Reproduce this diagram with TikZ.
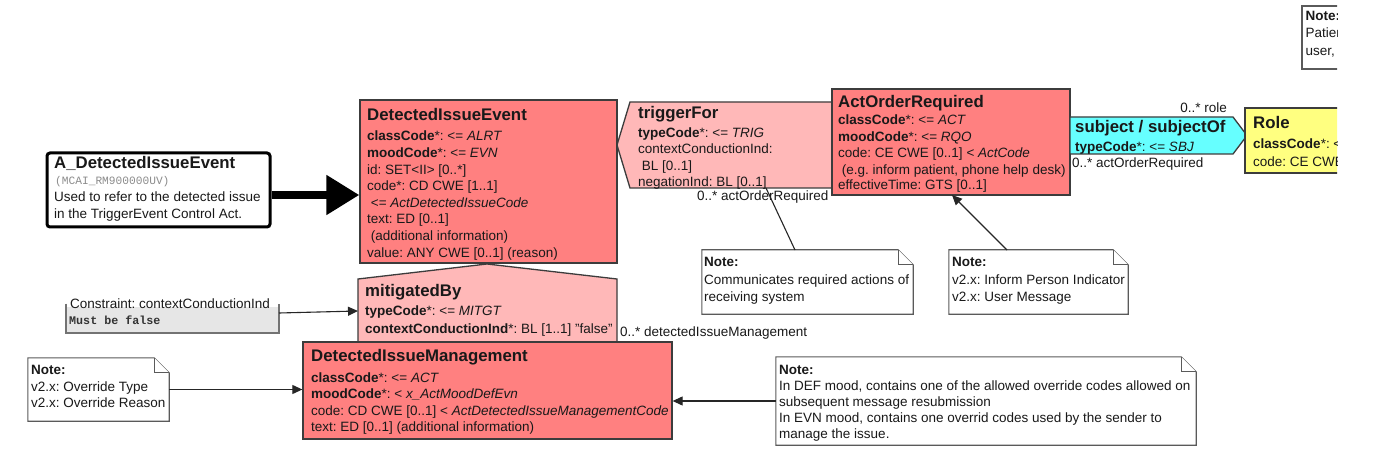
\documentclass[tikz,border=0pt]{standalone}
\usepackage{fontspec}
\setmainfont{Liberation Sans}
\setmonofont{Liberation Mono}
\usetikzlibrary{arrows.meta,fit}
\frenchspacing
\definecolor{salmonf}{RGB}{255,128,128}
\definecolor{pinkf}{RGB}{255,184,184}
\definecolor{cyanf}{RGB}{102,255,255}
\definecolor{yellowf}{RGB}{255,255,128}
\definecolor{grayf}{RGB}{230,230,230}
\definecolor{bordc}{RGB}{60,60,60}
\definecolor{notec}{RGB}{90,90,90}
\definecolor{txtc}{RGB}{25,25,25}
\newcommand\bodyf{\fontsize{13.5}{16.6}\selectfont}
\newcommand\titlef{\fontsize{16.8}{20}\selectfont\bfseries}
\newcommand\txtline[4]{\node[txt] (#1) at (#2,#3) {#4};}
\newcommand\hdline[4]{\node[ttl] (#1) at (#2,#3) {#4};}
\newcommand\noteshape[1]{%
  \draw[note] (#1.north west) -- ([xshift=-15pt]#1.north east) -- ([yshift=-15pt]#1.north east) -- (#1.south east) -- (#1.south west) -- cycle;
  \draw[note] ([xshift=-15pt]#1.north east) -- ([xshift=-15pt,yshift=-15pt]#1.north east) -- ([yshift=-15pt]#1.north east);}
\begin{document}
\begin{tikzpicture}[x=1pt,y=-1pt,
  txt/.style={inner sep=0pt,anchor=base west,font=\bodyf,text=txtc},
  ttl/.style={txt,font=\titlef},
  cls/.style={draw=bordc,line width=1.3pt,inner sep=0pt},
  note/.style={draw=notec,line width=1.1pt,fill=white},
  area/.style={inner sep=0pt},
  arr/.style={-{Triangle[length=10pt,width=9pt]},line width=1.1pt,draw=black!85},
  conn/.style={line width=1.1pt,draw=black!85}]
\useasboundingbox (0,0) rectangle (1394,462);
\fill[white] (0,0) rectangle (1394,462);

% A_DetectedIssueEvent
\node[draw=black,line width=3pt,rounded corners=3pt,fill=white,inner sep=0pt,fit={(47,153) (270,227)}] (a) {};
% DetectedIssueEvent
\node[cls,fill=salmonf,fit={(360,100) (617,263)}] (die) {};
\draw[line width=8pt,-{Triangle[length=33pt,width=38pt]}] (a.east |- 0,195) -- (die.west |- 0,195);

% mitigatedBy
\draw[cls,fill=pinkf] (358,279) -- (487,264) -- (617,279) -- (617,346) -- (358,346) -- cycle;
\coordinate (mb-l) at (358,311);
% DetectedIssueManagement
\node[cls,fill=salmonf,fit={(303,342) (672,439)}] (dim) {};

% triggerFor
\draw[cls,fill=pinkf] (630,102) -- (840,102) -- (840,188) -- (630,188) -- (617,145) -- cycle;
\coordinate (tf-b) at (766,188);
% ActOrderRequired
\node[cls,fill=salmonf,fit={(832,89) (1070,195)}] (aor) {};
\coordinate (aor-b) at (952,195);
% subject
\draw[cls,fill=cyanf] (1070,117) -- (1233,117) -- (1247,135.5) -- (1233,154) -- (1070,154) -- cycle;

% clipped right part
\begin{scope}
\clip (0,0) rectangle (1337,462);
\node[cls,fill=yellowf,fit={(1245,108) (1390,173)}] (role) {};
\node[draw=notec,line width=1.1pt,fill=white,inner sep=0pt,fit={(1302,6) (1390,69)}] (ntr) {};
\hdline{r0}{1253}{128.7}{Role}
\txtline{r1}{1253}{149}{\textbf{classCode}*: <= \textit{ROL}}
\txtline{r2}{1253}{166.5}{code: CE CWE [0..1] < \textit{RoleCode}}
\txtline{n0}{1305.5}{21}{\textbf{Note:}}
\txtline{n1}{1305.5}{38}{Patient}
\txtline{n2}{1305.5}{55.5}{user, the}
\end{scope}

% constraint
\fill[grayf] (66,307) rectangle (279,333);
\draw[draw=black!55,line width=1.3pt] (66,303.5) -- (66,333) -- (279,333) -- (279,303.5);
\node[area,fit={(66,303) (279,333)}] (con) {};
\coordinate (con-r) at (279,313);

% notes
\node[area,fit={(28,358) (169,421)}] (nl) {};
\node[area,fit={(702,250) (913,314)}] (nm) {};
\node[area,fit={(949,250) (1128,314)}] (nr) {};
\node[area,fit={(776,357) (1196,445)}] (nb) {};
\noteshape{nl}
\noteshape{nm}
\noteshape{nr}
\noteshape{nb}
\coordinate (nm-t) at (795,250);
\coordinate (nr-t) at (1007,250);

% texts
\hdline{a1}{54}{169}{A\_DetectedIssueEvent}
\node[txt,font=\fontsize{11.2}{12}\ttfamily,text=black!45] (a2) at (55,185) {(MCAI\_RM900000UV)};
\txtline{a3}{54}{202}{Used to refer to the detected issue}
\txtline{a4}{54}{219}{in the TriggerEvent Control Act.}

\hdline{d0}{367}{121}{DetectedIssueEvent}
\txtline{d1}{367}{141}{\textbf{classCode}*: <= \textit{ALRT}}
\txtline{d2}{367}{157.6}{\textbf{moodCode}*: <= \textit{EVN}}
\txtline{d3}{367}{174.2}{id: SET<II> [0..*]}
\txtline{d4}{367}{190.8}{code*: CD CWE [1..1]}
\txtline{d5}{367}{207.4}{\hspace{3.7pt}<= \textit{ActDetectedIssueCode}}
\txtline{d6}{367}{224}{text: ED [0..1]}
\txtline{d7}{367}{240.6}{\hspace{3.7pt}(additional information)}
\txtline{d8}{367}{257.2}{value: ANY CWE [0..1] (reason)}

\hdline{t0}{638}{119}{triggerFor}
\txtline{t1}{638}{137.3}{\textbf{typeCode}*: <= \textit{TRIG}}
\txtline{t2}{638}{153.7}{contextConductionInd:}
\txtline{t3}{638}{170.1}{\hspace{3.7pt}BL [0..1]}
\txtline{t4}{638}{186.5}{negationInd: BL [0..1]}
\txtline{lab1}{697}{201}{0..* actOrderRequired}

\hdline{o0}{838}{107.7}{ActOrderRequired}
\txtline{o1}{838}{125}{\textbf{classCode}*: <= \textit{ACT}}
\txtline{o2}{838}{141.5}{\textbf{moodCode}*: <= \textit{RQO}}
\txtline{o3}{838}{158}{code: CE CWE [0..1] < \textit{ActCode}}
\txtline{o4}{838}{174.5}{\hspace{3.7pt}(e.g. inform patient, phone help desk)}
\txtline{o5}{838}{190}{effectiveTime: GTS [0..1]}

\hdline{s0}{1075}{133}{subject / subjectOf}
\txtline{s1}{1075}{151.5}{\textbf{typeCode}*: <= \textit{SBJ}}
\node[txt,anchor=base east] (lab2) at (1227,113) {0..* role};
\txtline{lab3}{1072}{168}{0..* actOrderRequired}

\hdline{m0}{365}{296.7}{mitigatedBy}
\txtline{m1}{365}{315.7}{\textbf{typeCode}*: <= \textit{MITGT}}
\txtline{m2}{365}{333}{\textbf{contextConductionInd}*: BL [1..1] "false"}
\txtline{lab4}{620}{336.5}{0..* detectedIssueManagement}

\hdline{g0}{311}{361}{DetectedIssueManagement}
\txtline{g1}{311}{382}{\textbf{classCode}*: <= \textit{ACT}}
\txtline{g2}{311}{398.6}{\textbf{moodCode}*: < \textit{x\_ActMoodDefEvn}}
\txtline{g3}{311}{415.2}{code: CD CWE [0..1] < \textit{ActDetectedIssueManagementCode}}
\txtline{g4}{311}{431.8}{text: ED [0..1] (additional information)}

\txtline{c0}{70}{308}{Constraint: contextConductionInd}
\node[txt,font=\fontsize{11.7}{12}\ttfamily\bfseries,text=black!80] (c1) at (69,324) {Must be false};

\txtline{l0}{31}{374}{\textbf{Note:}}
\txtline{l1}{31}{391}{v2.x: Override Type}
\txtline{l2}{31}{407}{v2.x: Override Reason}

\txtline{p0}{704}{266}{\textbf{Note:}}
\txtline{p1}{704}{284}{Communicates required actions of}
\txtline{p2}{704}{301.5}{receiving system}

\txtline{q0}{952}{266}{\textbf{Note:}}
\txtline{q1}{952}{284}{v2.x: Inform Person Indicator}
\txtline{q2}{952}{301.5}{v2.x: User Message}

\txtline{b0}{779}{374.5}{\textbf{Note:}}
\txtline{b1}{779}{390.5}{In DEF mood, contains one of the allowed override codes allowed on}
\txtline{b2}{779}{406.5}{subsequent message resubmission}
\txtline{b3}{779}{422.5}{In EVN mood, contains one overrid codes used by the sender to}
\txtline{b4}{779}{438.5}{manage the issue.}

% connectors
\draw[conn] (nm-t) -- (tf-b);
\draw[arr] (nr-t) -- (aor-b);
\draw[arr] (nl.east) -- (nl.east -| dim.west);
\draw[arr] (nb.west) -- (nb.west -| dim.east);
\draw[arr] (con-r) -- (mb-l);
\end{tikzpicture}
\end{document}
